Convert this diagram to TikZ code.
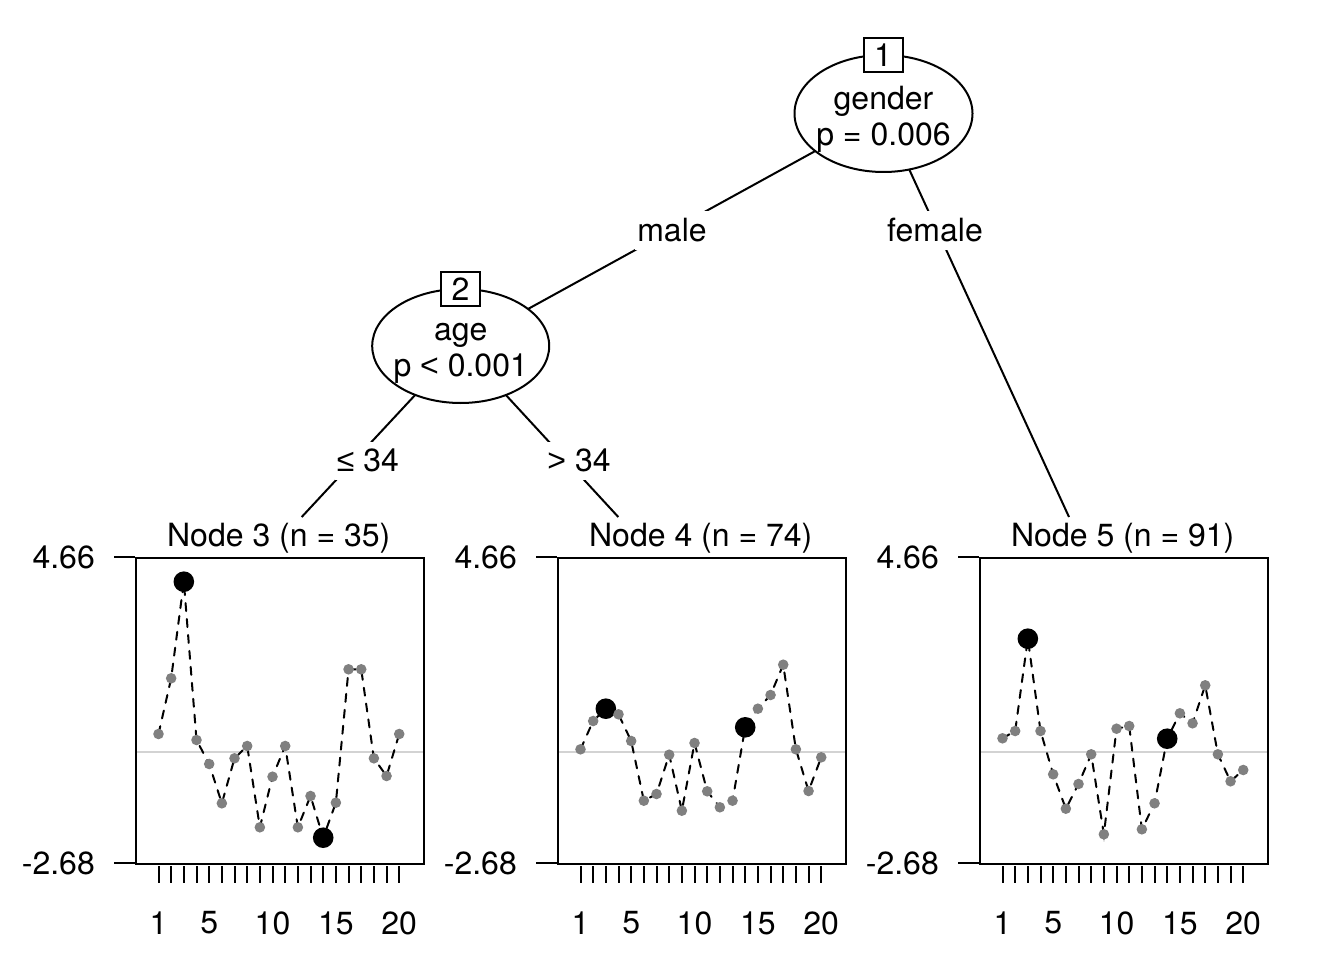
\documentclass[tikz,border=0pt]{standalone}
\usepackage{fontspec}
\setmainfont{TeX Gyre Heros}
\newfontfamily\symfont{Liberation Sans}
\usetikzlibrary{shapes.geometric,backgrounds}
\definecolor{refgray}{HTML}{D3D3D3}
\definecolor{ptgray}{HTML}{808080}
\newcommand{\zbox}[2]{\makebox[0pt]{\raisebox{#1}[0pt][0pt]{\begin{tabular}{@{}c@{}}#2\end{tabular}}}}
\tikzset{
  treeline/.style={line width=2pt},
  innernode/.style={ellipse, draw, line width=2pt, fill=white, inner sep=0pt},
  idbox/.style={draw, line width=2pt, fill=white, minimum width=39pt, minimum height=34pt, inner sep=0pt},
  elabel/.style={fill=white, inner xsep=2pt, inner ysep=7.5pt, anchor=base},
  panelbox/.style={draw, line width=2pt, minimum width=287.5pt, minimum height=306pt, inner sep=0pt, anchor=north west},
  refline/.style={draw=refgray, line width=2pt},
  dashline/.style={line width=2pt, line cap=round, dash pattern=on 8pt off 8pt},
  gpt/.style={fill=ptgray},
  bpt/.style={fill=black},
  tickline/.style={line width=2pt},
  axlabel/.style={inner sep=0pt},
}
\newcommand{\mypanel}[5]{%
  % #1 left x, #2 name, #3 title, #4 first y, #5 remaining y values
  \draw[refline] (#1,751.7) -- (#1+287.5,751.7);
  \draw[dashline] (#1+23.5,#4) \foreach \yy [count=\ii from 2] in {#5} { -- ({#1+23.5+(\ii-1)*12.67},\yy) };
  \foreach \yy [count=\ii] in {#4,#5} {
    \ifnum\ii=3
      \fill[bpt] ({#1+23.5+(\ii-1)*12.67},\yy) circle[radius=10.3pt];
    \else\ifnum\ii=14
      \fill[bpt] ({#1+23.5+(\ii-1)*12.67},\yy) circle[radius=10.3pt];
    \else
      \fill[gpt] ({#1+23.5+(\ii-1)*12.67},\yy) circle[radius=5.3pt];
    \fi\fi
  }
  \node[panelbox] (#2) at (#1,557) {};
  \node (#2t) at (#1+143.75,538) {#3};
  \draw[tickline] (#1-21,557) -- (#1,557);
  \draw[tickline] (#1-21,863) -- (#1,863);
  \node[axlabel, anchor=east] (#2ymax) at (#1-40,557) {4.66};
  \node[axlabel, anchor=east] (#2ymin) at (#1-40,863) {-2.68};
  \foreach \ii in {0,...,19} {
    \draw[tickline] ({#1+23.5+\ii*12.67},866) -- ({#1+23.5+\ii*12.67},883);
  }
  \foreach \ii in {1,5,10,15,20} {
    \node[axlabel] at ({#1+23.5+(\ii-1)*12.67},923) {\ii};
  }
}
\begin{document}
\begin{tikzpicture}[x=1pt, y=-1pt, font=\fontsize{32}{36}\selectfont]
\useasboundingbox (0,0) rectangle (1344,960);

% inner nodes
\node[innernode, minimum width=178pt, minimum height=117pt] (n1) at (883.5,113.5) {\zbox{-13pt}{gender\\p = 0.006}};
\node[idbox] (b1) at (883,55) {1};
\node[innernode, minimum width=177pt, minimum height=114pt] (n2) at (460.7,346) {\zbox{-12pt}{age\\p {\symfont <} 0.001}};
\node[idbox] (b2) at (460.5,289) {2};

% terminal attachment points
\coordinate (t3) at (301.7,517);
\coordinate (t4) at (618.3,517);
\coordinate (t5) at (1069,517);

% edge labels
\node[elabel] (lmale) at (672,241.7) {male};
\node[elabel] (lfemale) at (935,241.7) {female};
\node[elabel] (lle) at (368,471.7) {{\symfont ≤} 34};
\node[elabel] (lgt) at (579,471.7) {{\symfont >} 34};

\begin{pgfonlayer}{background}
  \draw[treeline] (n1.center) -- (n2.center);
  \draw[treeline] (n1.center) -- (t5);
  \draw[treeline] (n2.center) -- (t3);
  \draw[treeline] (n2.center) -- (t4);
\end{pgfonlayer}

% terminal panels
\mypanel{135}{p3}{Node 3 (n = 35)}{734}{678.3,581.7,740,764,803.3,758.3,746,827.3,776.7,746,827.3,796,837.7,802.7,669.3,669.3,758.3,776,734}
\mypanel{557}{p4}{Node 4 (n = 74)}{749.3}{721,708.7,714.3,741,800.7,794,754.7,810.7,743,791.3,807.3,800.7,727.3,708.7,695,664.7,749.3,791,757.3}
\mypanel{979}{p5}{Node 5 (n = 91)}{738.3}{731,638.7,731,774.3,808.7,784,754.3,834.3,728.7,726,829.3,803.3,738.7,713.3,723.3,685.3,754.3,781.3,770}
\end{tikzpicture}
\end{document}
